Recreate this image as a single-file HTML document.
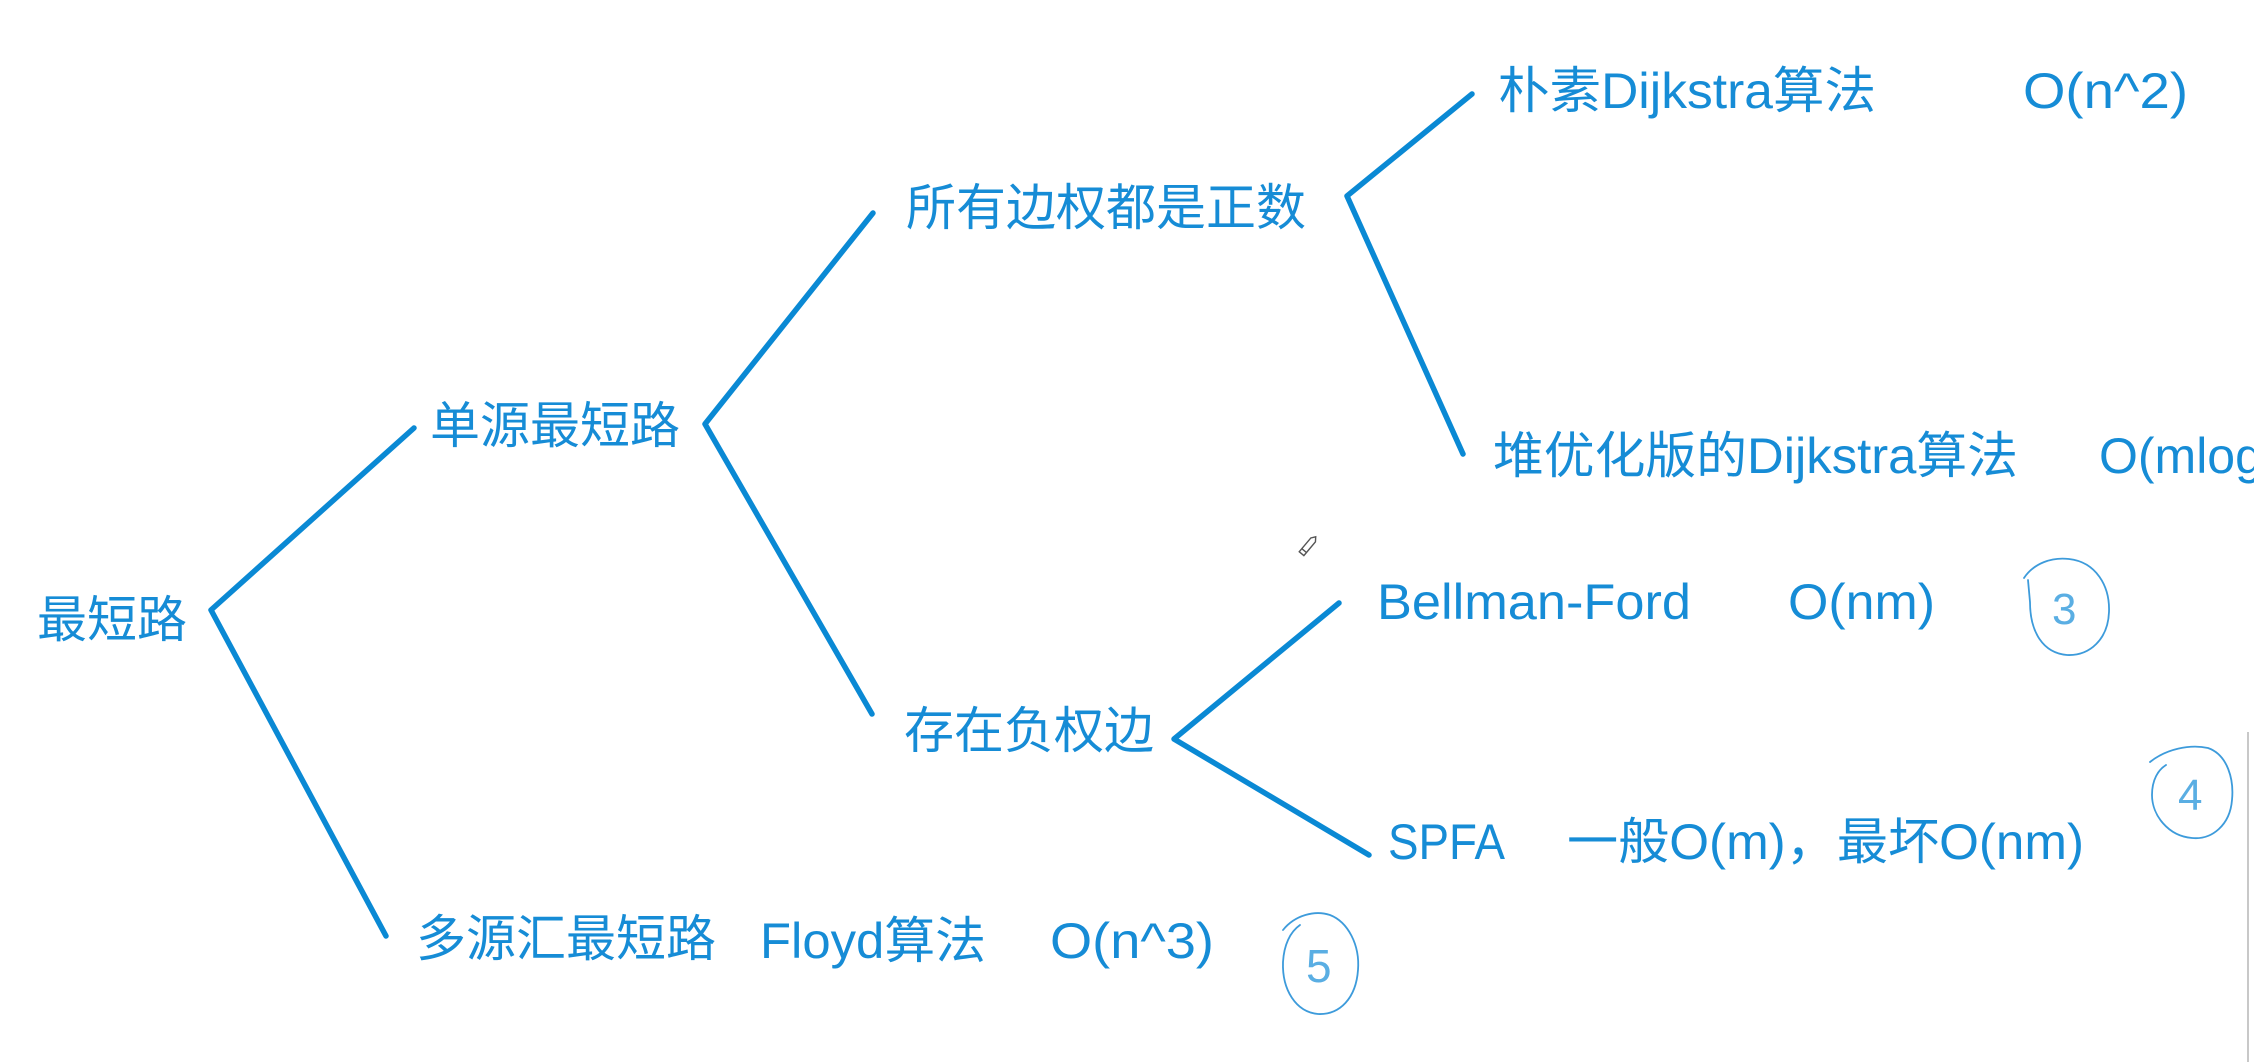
<!DOCTYPE html>
<html>
<head>
<meta charset="utf-8">
<style>
  html, body { margin: 0; padding: 0; background: #ffffff; }
  body { width: 2254px; height: 1062px; overflow: hidden; }
  svg { display: block; }
  .t { font-family: "Liberation Sans", "Noto Sans CJK SC", sans-serif; font-size: 50px; fill: #168cd6; }
  .hw { font-family: "Liberation Sans", sans-serif; fill: #5aaee3; }
</style>
</head>
<body>
<svg width="2254" height="1062" viewBox="0 0 2254 1062" xmlns="http://www.w3.org/2000/svg">
  <rect x="0" y="0" width="2254" height="1062" fill="#ffffff"/>

  <!-- connectors -->
  <g stroke="#0a89d4" stroke-width="5.5" stroke-linecap="round" stroke-linejoin="round" fill="none">
    <polyline points="414,428 211,610 386,936"/>
    <polyline points="873,213 705,424 872,714"/>
    <polyline points="1472,94 1347,196 1463,454"/>
    <polyline points="1339,603 1174,739 1369,855"/>
  </g>

  <!-- labels -->
  <text class="t" x="37" y="637">最短路</text>
  <text class="t" x="430" y="443">单源最短路</text>
  <text class="t" x="416" y="956">多源汇最短路</text>
  <text class="t" x="760" y="958" textLength="226" lengthAdjust="spacingAndGlyphs">Floyd算法</text>
  <text class="t" x="1050" y="958" textLength="164" lengthAdjust="spacingAndGlyphs">O(n^3)</text>
  <text class="t" x="906" y="225">所有边权都是正数</text>
  <text class="t" x="904" y="748">存在负权边</text>
  <text class="t" x="1498" y="108" textLength="378" lengthAdjust="spacingAndGlyphs">朴素Dijkstra算法</text>
  <text class="t" x="2023" y="108" textLength="165" lengthAdjust="spacingAndGlyphs">O(n^2)</text>
  <text class="t" x="1493" y="473" textLength="525" lengthAdjust="spacingAndGlyphs">堆优化版的Dijkstra算法</text>
  <text class="t" x="2099" y="473">O(mlogn)</text>
  <text class="t" x="1377" y="619" textLength="314" lengthAdjust="spacingAndGlyphs">Bellman-Ford</text>
  <text class="t" x="1788" y="619" textLength="147" lengthAdjust="spacingAndGlyphs">O(nm)</text>
  <text class="t" x="1388" y="859" textLength="117" lengthAdjust="spacingAndGlyphs">SPFA</text>
  <text class="t" x="1567" y="859" textLength="517" lengthAdjust="spacingAndGlyphs">一般O(m)，最坏O(nm)</text>

  <!-- handwritten circled numbers -->
  <g stroke="#3d9bdb" stroke-width="1.8" fill="none" stroke-linecap="round">
    <path d="M2024,578 C2034,563 2052,557 2069,559 C2096,562 2110,586 2109,612 C2108,639 2090,656 2067,655 C2043,653 2030,632 2030,602 L2028,580"/>
    <path d="M2150,762 C2166,749 2190,744 2208,748 C2228,755 2234,780 2232,800 C2230,825 2212,840 2192,838 C2168,836 2152,815 2152,795 C2152,780 2158,770 2166,765"/>
    <path d="M1283,930 C1295,915 1315,910 1330,915 C1348,922 1360,945 1358,970 C1356,998 1340,1015 1318,1014 C1296,1012 1282,990 1283,962 C1284,945 1290,932 1300,925"/>
  </g>
  <text class="hw" x="2052" y="624" font-size="44">3</text>
  <text class="hw" x="2178" y="810" font-size="44">4</text>
  <text class="hw" x="1306" y="982" font-size="46">5</text>

  <!-- pencil cursor -->
  <g transform="translate(1308,546) rotate(-50)" stroke="#555" stroke-width="1.4" fill="#fff">
    <path d="M-10,-3 L8,-3 L12,0 L8,3 L-10,3 Z"/>
    <line x1="-6" y1="-3" x2="-6" y2="3"/>
  </g>

  <!-- faint right edge line -->
  <line x1="2248" y1="732" x2="2248" y2="1062" stroke="#c8c8c8" stroke-width="2"/>
</svg>
</body>
</html>
